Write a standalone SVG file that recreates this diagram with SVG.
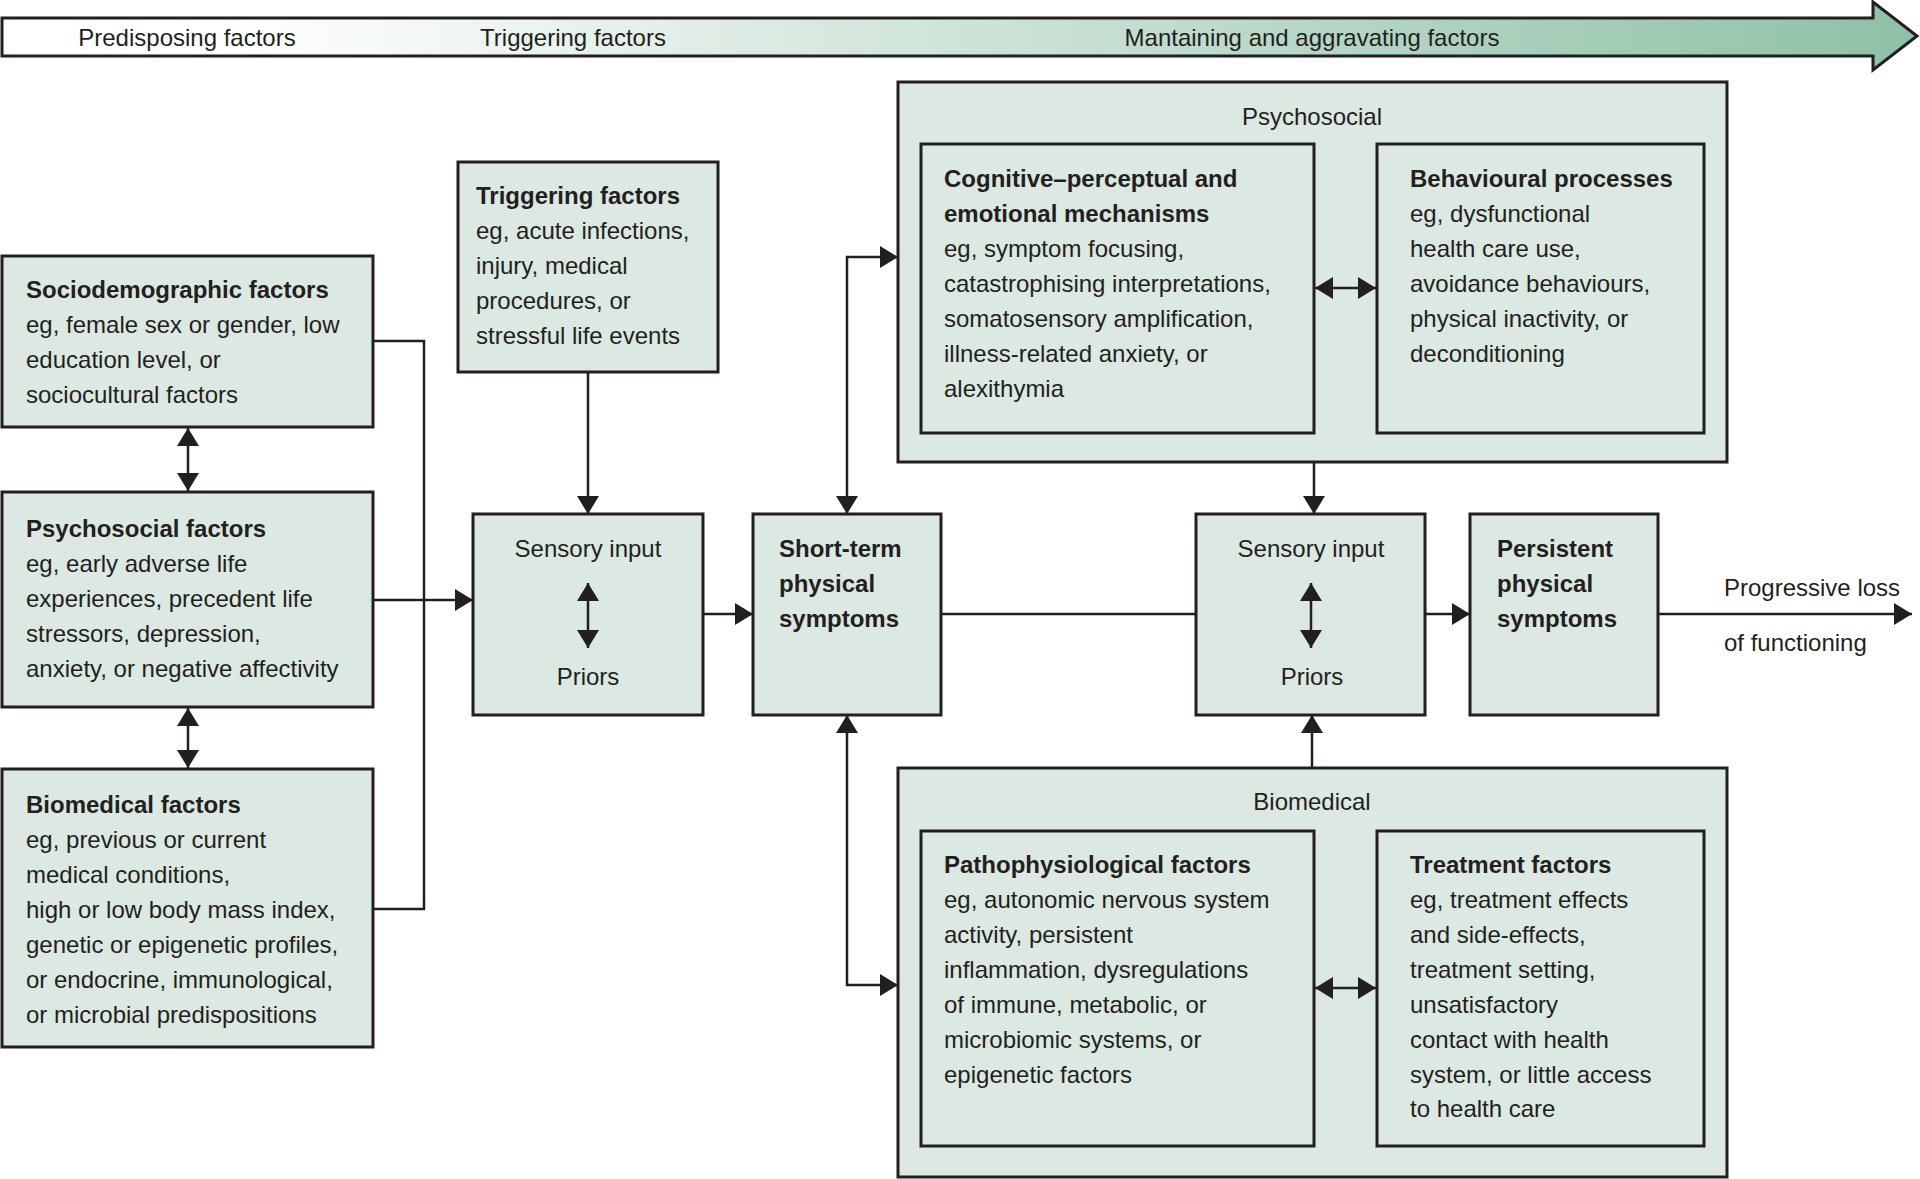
<svg xmlns="http://www.w3.org/2000/svg" width="1920" height="1179" viewBox="0 0 1920 1179">
<style>
text{font-family:"Liberation Sans",Arial,sans-serif;font-size:24px;fill:#231f20}
.b{font-weight:bold}
.c{text-anchor:middle}
.box{fill:#dce8e2;stroke:#231f20;stroke-width:3}
.con{fill:none;stroke:#231f20;stroke-width:2.5}
.arr{marker-end:url(#ah)}
.dbl{marker-start:url(#ah);marker-end:url(#ah)}
</style>
<defs>
<linearGradient id="bg" x1="0" y1="0" x2="1" y2="0">
<stop offset="0" stop-color="#ffffff"/>
<stop offset="0.12" stop-color="#ffffff"/>
<stop offset="0.45" stop-color="#d5e7dd"/>
<stop offset="1" stop-color="#8ec1a7"/>
</linearGradient>
<marker id="ah" viewBox="0 0 18 22" refX="18" refY="11" markerWidth="18" markerHeight="22" markerUnits="userSpaceOnUse" orient="auto-start-reverse">
<path d="M0,0 L18,11 L0,22 z" fill="#231f20"/>
</marker>
</defs>
<rect width="1920" height="1179" fill="#ffffff"/>

<g id="banner">
<path d="M2,18 H1873 V2 L1917,36 L1873,70 V56 H2 Z" fill="url(#bg)" stroke="#231f20" stroke-width="3"/>
<text class="c" x="187" y="46">Predisposing factors</text>
<text class="c" x="573" y="46">Triggering factors</text>
<text class="c" x="1312" y="46">Mantaining and aggravating factors</text>
</g>

<g id="sociodemographic">
<rect class="box" x="2" y="256" width="371" height="171"/>
<text x="26" y="298" class="b">Sociodemographic factors</text>
<text x="26" y="333">eg, female sex or gender, low</text>
<text x="26" y="368">education level, or</text>
<text x="26" y="403">sociocultural factors</text>
</g>

<g id="psychosocial-factors">
<rect class="box" x="2" y="492" width="371" height="215"/>
<text x="26" y="537" class="b">Psychosocial factors</text>
<text x="26" y="572">eg, early adverse life</text>
<text x="26" y="607">experiences, precedent life</text>
<text x="26" y="642">stressors, depression,</text>
<text x="26" y="677">anxiety, or negative affectivity</text>
</g>

<g id="biomedical-factors">
<rect class="box" x="2" y="769" width="371" height="278"/>
<text x="26" y="813" class="b">Biomedical factors</text>
<text x="26" y="848">eg, previous or current</text>
<text x="26" y="883">medical conditions,</text>
<text x="26" y="918">high or low body mass index,</text>
<text x="26" y="953">genetic or epigenetic profiles,</text>
<text x="26" y="988">or endocrine, immunological,</text>
<text x="26" y="1023">or microbial predispositions</text>
</g>

<g id="triggering-factors">
<rect class="box" x="458" y="162" width="260" height="210"/>
<text x="476" y="204" class="b">Triggering factors</text>
<text x="476" y="239">eg, acute infections,</text>
<text x="476" y="274">injury, medical</text>
<text x="476" y="309">procedures, or</text>
<text x="476" y="344">stressful life events</text>
</g>

<g id="sensory-input-1">
<rect class="box" x="473" y="514" width="230" height="201"/>
<text class="c" x="588" y="557">Sensory input</text>
<text class="c" x="588" y="685">Priors</text>
</g>

<g id="short-term">
<rect class="box" x="753" y="514" width="188" height="201"/>
<text x="779" y="557" class="b">Short-term</text>
<text x="779" y="592" class="b">physical</text>
<text x="779" y="627" class="b">symptoms</text>
</g>

<g id="psychosocial">
<rect class="box" x="898" y="82" width="829" height="380"/>
<text class="c" x="1312" y="125">Psychosocial</text>
<g id="cognitive">
<rect class="box" x="921" y="144" width="393" height="289"/>
<text x="944" y="187" class="b">Cognitive–perceptual and</text>
<text x="944" y="222" class="b">emotional mechanisms</text>
<text x="944" y="257">eg, symptom focusing,</text>
<text x="944" y="292">catastrophising interpretations,</text>
<text x="944" y="327">somatosensory amplification,</text>
<text x="944" y="362">illness-related anxiety, or</text>
<text x="944" y="397">alexithymia</text>
</g>
<g id="behavioural">
<rect class="box" x="1377" y="144" width="327" height="289"/>
<text x="1410" y="187" class="b">Behavioural processes</text>
<text x="1410" y="222">eg, dysfunctional</text>
<text x="1410" y="257">health care use,</text>
<text x="1410" y="292">avoidance behaviours,</text>
<text x="1410" y="327">physical inactivity, or</text>
<text x="1410" y="362">deconditioning</text>
</g>
</g>

<g id="sensory-input-2">
<rect class="box" x="1196" y="514" width="229" height="201"/>
<text class="c" x="1311" y="557">Sensory input</text>
<text class="c" x="1312" y="685">Priors</text>
</g>

<g id="persistent">
<rect class="box" x="1470" y="514" width="188" height="201"/>
<text x="1497" y="557" class="b">Persistent</text>
<text x="1497" y="592" class="b">physical</text>
<text x="1497" y="627" class="b">symptoms</text>
</g>

<g id="progressive-loss">
<text x="1724" y="596">Progressive loss</text>
<text x="1724" y="651">of functioning</text>
</g>

<g id="biomedical">
<rect class="box" x="898" y="768" width="829" height="409"/>
<text class="c" x="1312" y="810">Biomedical</text>
<g id="pathophysiological">
<rect class="box" x="921" y="831" width="393" height="315"/>
<text x="944" y="873" class="b">Pathophysiological factors</text>
<text x="944" y="908">eg, autonomic nervous system</text>
<text x="944" y="943">activity, persistent</text>
<text x="944" y="978">inflammation, dysregulations</text>
<text x="944" y="1013">of immune, metabolic, or</text>
<text x="944" y="1048">microbiomic systems, or</text>
<text x="944" y="1083">epigenetic factors</text>
</g>
<g id="treatment">
<rect class="box" x="1377" y="831" width="327" height="315"/>
<text x="1410" y="873" class="b">Treatment factors</text>
<text x="1410" y="908">eg, treatment effects</text>
<text x="1410" y="943">and side-effects,</text>
<text x="1410" y="978">treatment setting,</text>
<text x="1410" y="1013">unsatisfactory</text>
<text x="1410" y="1048">contact with health</text>
<text x="1410" y="1083">system, or little access</text>
<text x="1410" y="1117">to health care</text>
</g>
</g>

<g id="connectors">
<path class="con" d="M373,341 H424 V909 H373"/>
<path class="con arr" d="M373,600 H473"/>
<path class="con arr" d="M588,372 V514"/>
<path class="con arr" d="M703,614 H753"/>
<path class="con dbl" d="M847,514 V257 H898"/>
<path class="con dbl" d="M847,715 V985 H898"/>
<path class="con" d="M941,614 H1196"/>
<path class="con arr" d="M1314,462 V514"/>
<path class="con arr" d="M1312,768 V715"/>
<path class="con arr" d="M1425,614 H1470"/>
<path class="con arr" d="M1658,614 H1912"/>
<path class="con dbl" d="M188,428 V491"/>
<path class="con dbl" d="M188,708 V768"/>
<path class="con dbl" d="M588,583 V648"/>
<path class="con dbl" d="M1311,583 V648"/>
<path class="con dbl" d="M1315,288 H1376"/>
<path class="con dbl" d="M1315,988 H1376"/>
</g>
</svg>
